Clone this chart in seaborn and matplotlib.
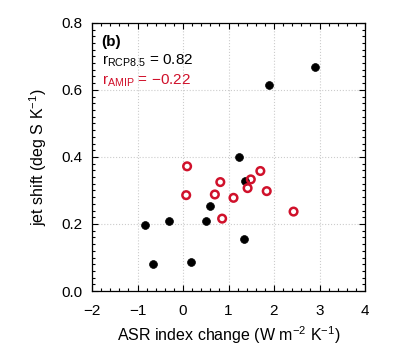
import numpy as np
import pandas as pd
import seaborn as sns
import matplotlib.pyplot as plt
from matplotlib.ticker import MultipleLocator

# data
rcp_x = [2.90, 1.88, 1.22, 1.36, 0.59, 0.51, -0.31, -0.83, 1.34, -0.65, 0.18]
rcp_y = [0.667, 0.616, 0.399, 0.328, 0.254, 0.208, 0.208, 0.197, 0.155, 0.080, 0.088]
amip_x = [0.09, 0.07, 0.82, 0.70, 1.11, 0.86, 1.42, 1.49, 1.70, 1.84, 2.43]
amip_y = [0.372, 0.286, 0.325, 0.288, 0.278, 0.216, 0.307, 0.333, 0.358, 0.298, 0.237]

red = '#d0112b'

sns.set_style("white")
plt.rcParams['font.family'] = ['Liberation Sans', 'DejaVu Sans']
plt.rcParams['mathtext.default'] = 'regular'
plt.rcParams['text.color'] = 'black'
plt.rcParams['axes.labelcolor'] = 'black'
plt.rcParams['xtick.color'] = 'black'
plt.rcParams['ytick.color'] = 'black'

fig = plt.figure(figsize=(4.0, 3.62), dpi=100)
ax = fig.add_axes([0.23, 0.196, 0.6825, 0.741])

rcp = pd.DataFrame({'x': rcp_x, 'y': rcp_y})
amip = pd.DataFrame({'x': amip_x, 'y': amip_y})

sns.scatterplot(data=rcp, x='x', y='y', ax=ax, color='black', s=32,
                edgecolor='black', linewidth=0.5, zorder=3)
sns.scatterplot(data=amip, x='x', y='y', ax=ax, facecolor='none', s=30,
                edgecolor=red, linewidth=1.8, zorder=4)

ax.set_xlim(-2, 4)
ax.set_ylim(0, 0.8)
ax.xaxis.set_major_locator(MultipleLocator(1))
ax.xaxis.set_minor_locator(MultipleLocator(0.2))
ax.yaxis.set_major_locator(MultipleLocator(0.2))
ax.yaxis.set_minor_locator(MultipleLocator(0.02))
ax.set_yticks(ax.get_yticks())
ax.set_yticklabels([f'{v:.1f}' for v in ax.get_yticks()])
ax.set_xticks(ax.get_xticks())
ax.set_xticklabels([str(int(v)).replace('-', '\u2212') for v in ax.get_xticks()])
ax.set_xlim(-2, 4)
ax.set_ylim(0, 0.8)

ax.tick_params(which='both', direction='in', top=True, right=True,
               bottom=True, left=True, labelsize=11, colors='black', width=0.8)
ax.tick_params(which='major', length=4)
ax.tick_params(which='minor', length=2.5)
ax.tick_params(axis='x', which='major', pad=9)
ax.tick_params(axis='y', which='major', pad=7)
ax.grid(True, which='major', linestyle=':', color='#cccccc', linewidth=0.8)
for sp in ax.spines.values():
    sp.set_color('black')
    sp.set_linewidth(0.9)

ax.set_xlabel('ASR index change (W m$^{-2}$ K$^{-1}$)', fontsize=11.5, labelpad=5)
ax.set_ylabel('jet shift (deg S K$^{-1}$)', fontsize=11.5, labelpad=9)

ax.text(0.035, 0.93, '(b)', transform=ax.transAxes, fontsize=11,
        fontweight='bold', va='center')
ax.text(0.035, 0.86, 'r$_{RCP8.5}$ = 0.82', transform=ax.transAxes,
        fontsize=11, va='center')
ax.text(0.035, 0.785, 'r$_{AMIP}$ = \u22120.22', transform=ax.transAxes,
        fontsize=11, va='center', color=red)

fig.savefig('out.png', dpi=100)
